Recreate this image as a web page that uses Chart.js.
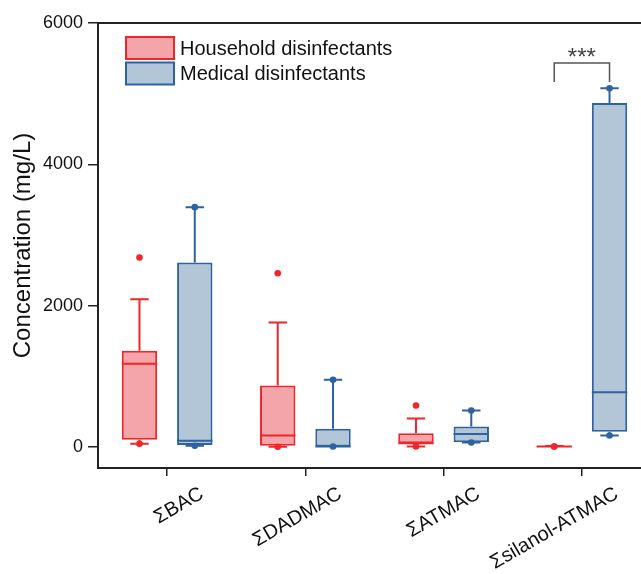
<!DOCTYPE html>
<html>
<head>
<meta charset="utf-8">
<script src="https://cdn.jsdelivr.net/npm/chart.js@4/dist/chart.umd.min.js"></script>
<style>
html,body{margin:0;padding:0;background:#fff;overflow:hidden;}
#wrap{width:660px;height:574px;position:relative;}
</style>
</head>
<body>
<div id="wrap"><canvas id="c" width="660" height="574"></canvas></div>
<script>
const categories = ['ΣBAC', 'ΣDADMAC', 'ΣATMAC', 'Σsilanol-ATMAC'];
const seriesNames = ['Household disinfectants', 'Medical disinfectants'];
const yTickValues = [0, 2000, 4000, 6000];

// Household disinfectants
const hhQ1 = [99, 14, 52, 3];
const hhMedian = [1175, 160, 52, 5];
const hhQ3 = [1359, 868, 193, 8];
const hhWhiskerLow = [42, 0, 5, 5];
const hhWhiskerHigh = [2090, 1760, 400, 10];
const hhMin = [42, 0, 5, 5];
const hhMax = [2680, 2458, 585, 5];

// Medical disinfectants
const mdQ1 = [24, 5, 66, 212];
const mdMedian = [85, 5, 180, 774];
const mdQ3 = [2609, 255, 288, 4869];
const mdWhiskerLow = [14, 5, 62, 160];
const mdWhiskerHigh = [3393, 948, 514, 5077];
const mdMin = [14, 5, 62, 160];
const mdMax = [3393, 948, 514, 5077];

// significance bracket (category index 3, between the two series)
const sigCategory = 3;
const sigBracketTop = 5435;
const sigBracketBottom = 5166;
const sigLabel = '***';

const hhColor = '#f0252a', hhFill = 'rgba(240,140,145,0.78)';
const mdColor = '#2f62a0', mdFill = 'rgba(165,188,208,0.85)';

const stats = [
  {q1: hhQ1, med: hhMedian, q3: hhQ3, lo: hhWhiskerLow, hi: hhWhiskerHigh, mn: hhMin, mx: hhMax, color: hhColor},
  {q1: mdQ1, med: mdMedian, q3: mdQ3, lo: mdWhiskerLow, hi: mdWhiskerHigh, mn: mdMin, mx: mdMax, color: mdColor}
];

const FONT = '"Liberation Sans", Arial, sans-serif';

const boxPlugin = {
  id: 'boxExtras',
  afterDatasetsDraw(chart) {
    const ctx = chart.ctx;
    const y = chart.scales.y;
    stats.forEach((s, di) => {
      const meta = chart.getDatasetMeta(di);
      meta.data.forEach((bar, i) => {
        const x = bar.x;
        const w = bar.width;
        const cap = w * 0.52;
        ctx.save();
        ctx.strokeStyle = s.color;
        ctx.fillStyle = s.color;
        ctx.lineWidth = 2;
        const pq3 = y.getPixelForValue(s.q3[i]);
        const pq1 = y.getPixelForValue(s.q1[i]);
        const phi = y.getPixelForValue(s.hi[i]);
        const plo = y.getPixelForValue(s.lo[i]);
        ctx.beginPath();
        ctx.moveTo(x, pq3); ctx.lineTo(x, phi);
        ctx.moveTo(x - cap / 2, phi); ctx.lineTo(x + cap / 2, phi);
        ctx.moveTo(x, pq1); ctx.lineTo(x, plo);
        ctx.moveTo(x - cap / 2, plo); ctx.lineTo(x + cap / 2, plo);
        const pm = y.getPixelForValue(s.med[i]);
        ctx.moveTo(bar.x - w / 2, pm); ctx.lineTo(bar.x + w / 2, pm);
        ctx.stroke();
        [s.mn[i], s.mx[i]].forEach(v => {
          ctx.beginPath();
          ctx.arc(x, y.getPixelForValue(v), 3.3, 0, Math.PI * 2);
          ctx.fill();
        });
        ctx.restore();
      });
    });

    // significance bracket
    const a = chart.getDatasetMeta(0).data[sigCategory];
    const b = chart.getDatasetMeta(1).data[sigCategory];
    const pt = y.getPixelForValue(sigBracketTop);
    const pb = y.getPixelForValue(sigBracketBottom);
    ctx.save();
    ctx.strokeStyle = '#555';
    ctx.lineWidth = 1.5;
    ctx.beginPath();
    ctx.moveTo(a.x, pb); ctx.lineTo(a.x, pt); ctx.lineTo(b.x, pt); ctx.lineTo(b.x, pb);
    ctx.stroke();
    ctx.fillStyle = '#444';
    ctx.font = '24px ' + FONT;
    ctx.textAlign = 'center';
    ctx.textBaseline = 'alphabetic';
    ctx.fillText(sigLabel, (a.x + b.x) / 2, pt + 2);
    ctx.restore();

    // top frame line
    const ca = chart.chartArea;
    ctx.save();
    ctx.strokeStyle = '#222';
    ctx.lineWidth = 2;
    ctx.beginPath();
    ctx.moveTo(ca.left, ca.top); ctx.lineTo(ca.right + 20, ca.top);
    ctx.stroke();
    ctx.restore();

    // legend
    ctx.save();
    chart.data.datasets.forEach((ds, k) => {
      const lx = ca.left + 28, ly = ca.top + 14 + k * 25.5;
      ctx.fillStyle = ds.backgroundColor;
      ctx.fillRect(lx, ly, 48, 22);
      ctx.strokeStyle = ds.borderColor;
      ctx.lineWidth = 2;
      ctx.strokeRect(lx, ly, 48, 22);
      ctx.fillStyle = '#111';
      ctx.font = '20px ' + FONT;
      ctx.textAlign = 'left';
      ctx.textBaseline = 'middle';
      ctx.fillText(ds.label, lx + 54, ly + 12);
    });
    ctx.restore();
  }
};

new Chart(document.getElementById('c'), {
  type: 'bar',
  data: {
    labels: categories,
    datasets: [
      {label: seriesNames[0], data: hhQ1.map((v, i) => [v, hhQ3[i]]), backgroundColor: hhFill, borderColor: hhColor, borderWidth: 2, borderSkipped: false},
      {label: seriesNames[1], data: mdQ1.map((v, i) => [v, mdQ3[i]]), backgroundColor: mdFill, borderColor: mdColor, borderWidth: 2, borderSkipped: false}
    ]
  },
  options: {
    responsive: false,
    animation: false,
    categoryPercentage: 0.8,
    barPercentage: 0.64,
    layout: {padding: {top: 23, right: 9, left: 0, bottom: 0}},
    plugins: {legend: {display: false}, tooltip: {enabled: false}},
    scales: {
      x: {
        offset: true,
        grid: {drawOnChartArea: false, offset: false, tickLength: 8, color: '#222', lineWidth: 1.5},
        border: {display: true, color: '#222', width: 2},
        ticks: {color: '#111', font: {family: FONT, size: 20}, minRotation: 30, maxRotation: 30, autoSkip: false, padding: 6, labelOffset: 35},
        afterFit(scale) { scale.height = 106; }
      },
      y: {
        min: -300, max: 6000,
        afterBuildTicks(scale) { scale.ticks = yTickValues.map(v => ({value: v})); },
        grid: {drawOnChartArea: false, tickLength: 10, color: '#222', lineWidth: 1.5},
        border: {display: true, color: '#222', width: 2},
        ticks: {color: '#111', font: {family: FONT, size: 18}, padding: 5, callback: v => String(v)},
        title: {display: true, text: 'Concentration (mg/L)', color: '#111', font: {family: FONT, size: 24}, padding: {top: 9, bottom: 0}},
        afterFit(scale) { scale.width = 98; }
      }
    }
  },
  plugins: [boxPlugin]
});
</script>
</body>
</html>
